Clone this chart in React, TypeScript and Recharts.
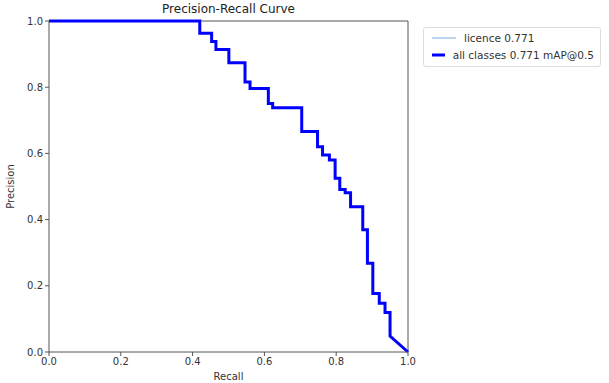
import React from "react";
import { LineChart, Line, XAxis, YAxis, ReferenceLine, Legend } from "recharts";

const recallPts = [0, 0.42, 0.42, 0.453, 0.453, 0.465, 0.465, 0.501, 0.501, 0.546, 0.546, 0.56, 0.56, 0.611, 0.611, 0.623, 0.623, 0.704, 0.704, 0.748, 0.748, 0.762, 0.762, 0.781, 0.781, 0.797, 0.797, 0.81, 0.81, 0.825, 0.825, 0.84, 0.84, 0.874, 0.874, 0.887, 0.887, 0.902, 0.902, 0.92, 0.92, 0.936, 0.936, 0.95, 0.95, 1.0];
const precisionPts = [1, 1, 0.963, 0.963, 0.938, 0.938, 0.914, 0.914, 0.874, 0.874, 0.816, 0.816, 0.796, 0.796, 0.751, 0.751, 0.738, 0.738, 0.666, 0.666, 0.62, 0.62, 0.595, 0.595, 0.58, 0.58, 0.525, 0.525, 0.491, 0.491, 0.481, 0.481, 0.439, 0.439, 0.369, 0.369, 0.268, 0.268, 0.177, 0.177, 0.147, 0.147, 0.119, 0.119, 0.048, 0.0];
const ticks = [0, 0.2, 0.4, 0.6, 0.8, 1.0];
const seriesNames = ["licence 0.771", "all classes 0.771 mAP@0.5"];
const seriesColors = ["#76aee0", "#0000ff"];

const data = recallPts.map((r, i) => ({ r, p: precisionPts[i], p2: precisionPts[i] }));

const FONT = "'DejaVu Sans', sans-serif";
const axisColor = "#555";

const LegendBox = () => (
  <div
    style={{
      border: "1px solid #ddd",
      borderRadius: 3,
      background: "#fff",
      padding: "1px 6px 3px 8px",
      fontFamily: FONT,
      fontSize: 10.5,
      color: "#333",
      width: 162,
      textAlign: "left",
    }}
  >
    {seriesNames.map((n, i) => (
      <div key={n} style={{ display: "flex", alignItems: "center", height: 17, whiteSpace: "nowrap" }}>
        <svg width={24} height={6} style={{ marginRight: 8 }}>
          <line x1={0} y1={3} x2={24} y2={3} stroke={seriesColors[i]} strokeWidth={i === 0 ? 1 : 3} />
        </svg>
        <span>{n}</span>
      </div>
    ))}
  </div>
);

export default function App() {
  return (
    <div style={{ position: "absolute", left: 0, top: 0, width: 609, height: 383, background: "#fff" }}>
      <div
        style={{
          position: "absolute",
          left: 49,
          width: 359,
          top: 2,
          textAlign: "center",
          fontFamily: FONT,
          fontSize: 12,
          color: "#222",
        }}
      >
        Precision-Recall Curve
      </div>
      <LineChart width={609} height={383} data={data} margin={{ top: 21, right: 201, bottom: 0, left: 0 }}>
        <XAxis
          dataKey="r"
          type="number"
          domain={[0, 1]}
          ticks={ticks}
          tickFormatter={(v: number) => v.toFixed(1)}
          height={31}
          tickSize={4}
          stroke={axisColor}
          tick={{ fill: "#333", fontSize: 10, fontFamily: FONT }}
          label={{ value: "Recall", position: "insideBottom", offset: 3, fill: "#333", fontSize: 10, fontFamily: FONT }}
        />
        <YAxis
          type="number"
          domain={[0, 1]}
          ticks={ticks}
          tickFormatter={(v: number) => v.toFixed(1)}
          width={49}
          tickSize={4}
          stroke={axisColor}
          tick={{ fill: "#333", fontSize: 10, fontFamily: FONT }}
          label={{ value: "Precision", angle: -90, position: "insideLeft", offset: 10, fill: "#333", fontSize: 10, fontFamily: FONT, style: { textAnchor: "middle" } }}
        />
        <ReferenceLine x={1} stroke={axisColor} />
        <ReferenceLine y={1} stroke={axisColor} />
        <Line
          dataKey="p"
          name={seriesNames[0]}
          type="linear"
          stroke={seriesColors[0]}
          strokeWidth={1}
          dot={false}
          isAnimationActive={false}
        />
        <Line
          dataKey="p2"
          name={seriesNames[1]}
          type="linear"
          stroke={seriesColors[1]}
          strokeWidth={3}
          dot={false}
          isAnimationActive={false}
        />
        <Legend
          layout="horizontal"
          verticalAlign="middle"
          align="center"
          content={<LegendBox />}
          wrapperStyle={{ position: "absolute", left: 423, top: 27, width: "auto", height: "auto" }}
        />
      </LineChart>
    </div>
  );
}
